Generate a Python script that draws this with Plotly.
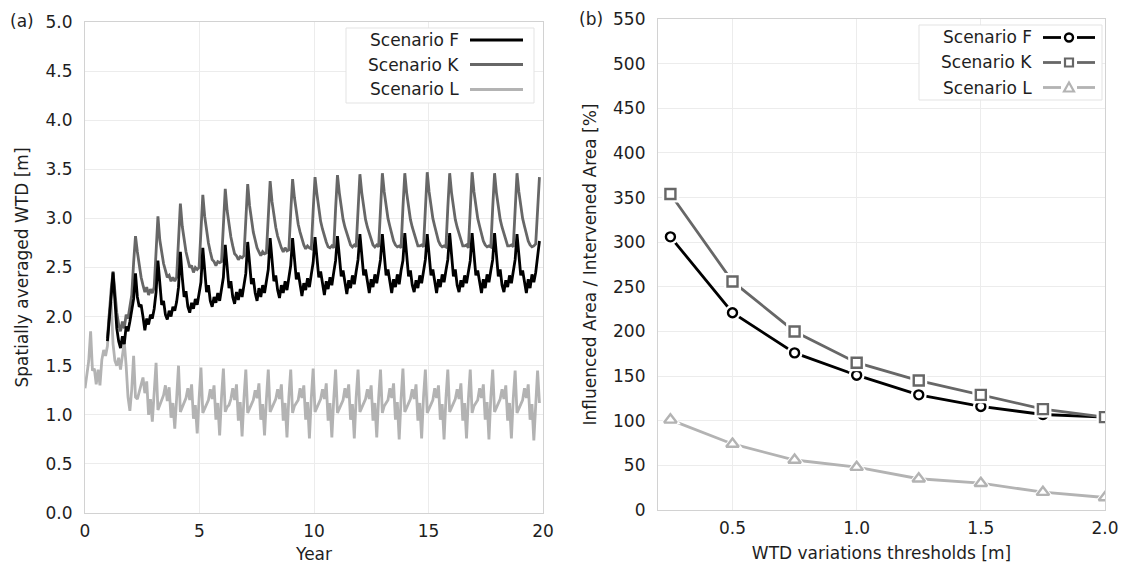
import plotly.graph_objects as go

W, H = 1121, 564
def px(x): return x / W
def py(y): return 1 - y / H

# ---------------- Panel (a) data: spatially averaged WTD [m] ----------------
sample_step_years = 0.98 / 12  # sampling interval of the simulated series

wtd_L_cycles = [
    [1.27, 1.42, 1.55, 1.85, 1.45, 1.47, 1.31, 1.46, 1.30, 1.56, 1.66, 1.60],
    [1.70, 2.02, 2.15, 1.72, 1.55, 1.50, 1.58, 1.46, 1.62, 1.74, 1.50, 1.18],
    [1.04, 1.26, 1.60, 1.18, 1.16, 1.24, 1.30, 1.38, 1.22, 1.34, 1.00, 1.16],
    [0.93, 1.20, 1.53, 1.05, 1.10, 1.15, 1.20, 1.30, 1.14, 1.28, 0.97, 1.12],
    [0.86, 1.17, 1.50, 1.03, 1.08, 1.12, 1.17, 1.27, 1.15, 1.31, 0.96, 1.10],
    [0.81, 1.16, 1.48, 1.02, 1.06, 1.11, 1.15, 1.26, 1.16, 1.30, 0.95, 1.12],
    [0.79, 1.18, 1.47, 1.03, 1.08, 1.10, 1.16, 1.27, 1.15, 1.31, 0.94, 1.13],
    [0.78, 1.17, 1.46, 1.02, 1.07, 1.12, 1.15, 1.25, 1.17, 1.32, 0.95, 1.11],
    [0.79, 1.16, 1.46, 1.03, 1.08, 1.11, 1.16, 1.26, 1.16, 1.31, 0.94, 1.12],
    [0.77, 1.18, 1.46, 1.02, 1.09, 1.12, 1.15, 1.27, 1.17, 1.30, 0.95, 1.13],
    [0.76, 1.17, 1.47, 1.03, 1.08, 1.11, 1.16, 1.26, 1.16, 1.32, 0.94, 1.12],
    [0.77, 1.16, 1.46, 1.02, 1.07, 1.12, 1.15, 1.27, 1.17, 1.31, 0.95, 1.11],
    [0.76, 1.18, 1.46, 1.03, 1.08, 1.11, 1.16, 1.26, 1.16, 1.30, 0.94, 1.12],
    [0.77, 1.17, 1.46, 1.02, 1.09, 1.12, 1.15, 1.27, 1.17, 1.32, 0.95, 1.13],
    [0.75, 1.16, 1.47, 1.03, 1.08, 1.11, 1.16, 1.26, 1.16, 1.31, 0.94, 1.12],
    [0.76, 1.18, 1.46, 1.02, 1.07, 1.12, 1.15, 1.27, 1.17, 1.30, 0.95, 1.11],
    [0.75, 1.17, 1.46, 1.03, 1.08, 1.11, 1.16, 1.26, 1.16, 1.32, 0.94, 1.12],
    [0.76, 1.16, 1.46, 1.02, 1.09, 1.12, 1.15, 1.27, 1.17, 1.31, 0.95, 1.13],
    [0.75, 1.18, 1.46, 1.03, 1.08, 1.11, 1.16, 1.26, 1.16, 1.30, 0.94, 1.12],
    [0.76, 1.17, 1.45, 1.02, 1.07, 1.12, 1.15, 1.27, 1.17, 1.31, 0.95, 1.11],
    [0.74, 1.10, 1.45, 1.12],
]

wtd_K_cycles = [
    [None] * 12,
    [1.78, 2.05, 2.28, 2.46, 2.22, 2.04, 1.92, 1.85, 1.95, 1.88, 2.02, 1.98],
    [2.10, 2.22, 2.55, 2.82, 2.66, 2.52, 2.40, 2.32, 2.25, 2.30, 2.22, 2.28],
    [2.24, 2.30, 2.68, 3.02, 2.78, 2.63, 2.54, 2.47, 2.40, 2.42, 2.36, 2.40],
    [2.36, 2.40, 2.80, 3.15, 2.92, 2.76, 2.66, 2.58, 2.50, 2.52, 2.45, 2.50],
    [2.48, 2.50, 2.90, 3.24, 3.02, 2.86, 2.75, 2.66, 2.58, 2.56, 2.52, 2.56],
    [2.55, 2.56, 2.96, 3.30, 3.08, 2.92, 2.81, 2.72, 2.64, 2.62, 2.58, 2.61],
    [2.60, 2.62, 3.00, 3.35, 3.13, 2.97, 2.86, 2.78, 2.70, 2.66, 2.62, 2.66],
    [2.64, 2.65, 3.04, 3.38, 3.17, 3.01, 2.91, 2.82, 2.75, 2.70, 2.66, 2.70],
    [2.67, 2.68, 3.06, 3.40, 3.21, 3.05, 2.94, 2.86, 2.78, 2.73, 2.69, 2.72],
    [2.70, 2.69, 3.08, 3.42, 3.25, 3.08, 2.97, 2.89, 2.82, 2.76, 2.71, 2.70],
    [2.72, 2.70, 3.10, 3.44, 3.26, 3.10, 2.99, 2.91, 2.85, 2.77, 2.73, 2.71],
    [2.73, 2.71, 3.11, 3.45, 3.26, 3.10, 2.99, 2.91, 2.85, 2.77, 2.73, 2.71],
    [2.73, 2.71, 3.12, 3.46, 3.27, 3.11, 3.00, 2.92, 2.85, 2.77, 2.73, 2.71],
    [2.72, 2.70, 3.11, 3.46, 3.26, 3.10, 2.99, 2.91, 2.84, 2.78, 2.72, 2.72],
    [2.73, 2.71, 3.12, 3.47, 3.27, 3.11, 3.00, 2.92, 2.85, 2.77, 2.73, 2.71],
    [2.72, 2.71, 3.11, 3.46, 3.26, 3.10, 2.99, 2.91, 2.84, 2.78, 2.72, 2.72],
    [2.73, 2.70, 3.12, 3.47, 3.27, 3.11, 3.00, 2.92, 2.85, 2.77, 2.73, 2.71],
    [2.72, 2.71, 3.11, 3.46, 3.26, 3.10, 2.99, 2.91, 2.84, 2.78, 2.72, 2.72],
    [2.73, 2.71, 3.12, 3.46, 3.27, 3.11, 3.00, 2.92, 2.85, 2.77, 2.73, 2.71],
    [2.72, 2.74, 3.08, 3.42],
]

wtd_F_cycles = [
    [None] * 12,
    [1.75, 1.95, 2.20, 2.45, 2.10, 1.88, 1.75, 1.68, 1.80, 1.72, 1.90, 1.85],
    [1.95, 2.05, 2.18, 2.44, 2.20, 2.10, 2.12, 2.00, 1.86, 1.98, 1.92, 2.02],
    [1.98, 2.08, 2.25, 2.57, 2.33, 2.12, 2.16, 2.02, 1.97, 2.06, 2.00, 2.10],
    [2.06, 2.15, 2.30, 2.66, 2.40, 2.20, 2.26, 2.10, 2.04, 2.14, 2.08, 2.18],
    [2.12, 2.22, 2.35, 2.70, 2.44, 2.25, 2.32, 2.16, 2.10, 2.20, 2.14, 2.24],
    [2.16, 2.27, 2.40, 2.73, 2.47, 2.29, 2.36, 2.20, 2.13, 2.25, 2.17, 2.28],
    [2.20, 2.32, 2.44, 2.76, 2.50, 2.33, 2.39, 2.24, 2.16, 2.29, 2.20, 2.32],
    [2.24, 2.36, 2.48, 2.80, 2.54, 2.36, 2.42, 2.27, 2.19, 2.32, 2.24, 2.36],
    [2.27, 2.40, 2.52, 2.80, 2.56, 2.38, 2.45, 2.30, 2.21, 2.34, 2.27, 2.39],
    [2.30, 2.43, 2.55, 2.81, 2.57, 2.40, 2.46, 2.31, 2.22, 2.36, 2.28, 2.40],
    [2.32, 2.45, 2.57, 2.82, 2.58, 2.41, 2.47, 2.32, 2.23, 2.37, 2.29, 2.42],
    [2.33, 2.46, 2.58, 2.84, 2.59, 2.42, 2.48, 2.33, 2.24, 2.38, 2.30, 2.43],
    [2.34, 2.46, 2.58, 2.84, 2.59, 2.42, 2.48, 2.33, 2.24, 2.38, 2.30, 2.43],
    [2.33, 2.47, 2.57, 2.85, 2.58, 2.41, 2.47, 2.32, 2.25, 2.37, 2.29, 2.42],
    [2.34, 2.46, 2.58, 2.84, 2.59, 2.42, 2.48, 2.33, 2.24, 2.38, 2.30, 2.43],
    [2.35, 2.47, 2.58, 2.85, 2.58, 2.41, 2.48, 2.32, 2.25, 2.37, 2.30, 2.42],
    [2.34, 2.46, 2.57, 2.85, 2.59, 2.42, 2.47, 2.33, 2.24, 2.38, 2.29, 2.43],
    [2.35, 2.47, 2.58, 2.85, 2.58, 2.41, 2.48, 2.32, 2.25, 2.37, 2.30, 2.42],
    [2.34, 2.46, 2.58, 2.84, 2.59, 2.42, 2.47, 2.33, 2.24, 2.38, 2.29, 2.43],
    [2.35, 2.45, 2.60, 2.77],
]

def flatten(cycles):
    return [v for c in cycles for v in c]

wtd_L = flatten(wtd_L_cycles)
wtd_K = flatten(wtd_K_cycles)
wtd_F = flatten(wtd_F_cycles)
years = [i * sample_step_years for i in range(len(wtd_L))]

# ---------------- Panel (b) data ----------------
thresholds = [0.25, 0.5, 0.75, 1.0, 1.25, 1.5, 1.75, 2.0]
ratio_F = [306, 221, 176, 151, 129, 116, 107, 104]
ratio_K = [354, 256, 200, 165, 145, 129, 113, 104]
ratio_L = [101, 74, 56, 48, 35, 30, 20, 14]

colors = {"F": "#000000", "K": "#676767", "L": "#b3b3b3"}

FONT = "DejaVu Sans"
TXT = "#1e1e1e"
FS = 17

fig = go.Figure()

# panel (a) lines
for key, vals in [("L", wtd_L), ("K", wtd_K), ("F", wtd_F)]:
    fig.add_trace(go.Scatter(x=years, y=vals, mode="lines",
                             line=dict(color=colors[key], width=2.8),
                             xaxis="x", yaxis="y", showlegend=False,
                             connectgaps=False, name="Scenario " + key))

# panel (b) lines + halos + markers
symbols = {"F": "circle", "K": "square", "L": "triangle-up"}
msize = {"F": 9, "K": 10, "L": 11}
for key, vals in [("F", ratio_F), ("K", ratio_K), ("L", ratio_L)]:
    fig.add_trace(go.Scatter(x=thresholds, y=vals, mode="lines",
                             line=dict(color=colors[key], width=2.8),
                             xaxis="x2", yaxis="y2", showlegend=False))
    fig.add_trace(go.Scatter(x=thresholds, y=vals, mode="markers",
                             marker=dict(symbol=symbols[key], size=msize[key] + 7,
                                         color="white", line=dict(width=0)),
                             xaxis="x2", yaxis="y2", showlegend=False, hoverinfo="skip"))
    fig.add_trace(go.Scatter(x=thresholds, y=vals, mode="markers",
                             marker=dict(symbol=symbols[key], size=msize[key],
                                         color="white",
                                         line=dict(width=2.4, color=colors[key])),
                             xaxis="x2", yaxis="y2", showlegend=False,
                             name="Scenario " + key))

axis_common = dict(showgrid=True, gridcolor="#ececec", gridwidth=1,
                   showline=True, linecolor="#d2d2d2", linewidth=1.2, mirror=True,
                   zeroline=False, ticks="outside", automargin=False,
                   tickcolor="rgba(0,0,0,0)",
                   tickfont=dict(family=FONT, size=FS, color=TXT))

fig.update_layout(
    width=W, height=H, margin=dict(l=0, r=0, t=0, b=0, autoexpand=False),
    paper_bgcolor="white", plot_bgcolor="white",
    font=dict(family=FONT, size=FS, color=TXT),
    showlegend=False,
    xaxis=dict(domain=[px(85), px(543)], range=[0, 20], tickvals=[0, 5, 10, 15, 20],
               anchor="y", ticklen=2,
               title=dict(text="Year", standoff=9, font=dict(family=FONT, size=FS, color=TXT)),
               **axis_common),
    yaxis=dict(domain=[py(513), py(22)], range=[0, 5], dtick=0.5, tickformat=".1f",
               anchor="x", ticklen=8,
               title=dict(text="Spatially averaged WTD [m]", standoff=12,
                          font=dict(family=FONT, size=FS, color=TXT)),
               **axis_common),
    xaxis2=dict(domain=[px(658), px(1105)], range=[0.2, 2.0],
                tickvals=[0.5, 1.0, 1.5, 2.0], ticktext=["0.5", "1.0", "1.5", "2.0"],
                anchor="y2", ticklen=2,
                title=dict(text="WTD variations thresholds [m]", standoff=10,
                           font=dict(family=FONT, size=FS, color=TXT)),
                **axis_common),
    yaxis2=dict(domain=[py(510), py(19)], range=[0, 550], dtick=50,
                anchor="x2", ticklen=8,
                title=dict(text="Influenced Area / Intervened Area [%]", standoff=12,
                           font=dict(family=FONT, size=FS, color=TXT)),
                **axis_common),
)

def label(text, x, y, xanchor="center"):
    return dict(text=text, x=px(x), y=py(y), xref="paper", yref="paper",
                xanchor=xanchor, yanchor="middle", showarrow=False,
                font=dict(family=FONT, size=FS, color=TXT))

annotations = [label("(a)", 22, 21), label("(b)", 591, 19)]
shapes = []

# legend panel (a)
shapes.append(dict(type="rect", xref="paper", yref="paper",
                   x0=px(346), x1=px(534), y0=py(103), y1=py(28),
                   line=dict(color="#e3e3e3", width=1), fillcolor="white", layer="above"))
for i, key in enumerate(["F", "K", "L"]):
    yy = [40, 64.5, 89.5][i]
    annotations.append(label("Scenario " + key, 461, yy, "right"))
    shapes.append(dict(type="line", xref="paper", yref="paper",
                       x0=px(470), x1=px(523), y0=py(yy), y1=py(yy),
                       line=dict(color=colors[key], width=2.8), layer="above"))

# legend panel (b)
shapes.append(dict(type="rect", xref="paper", yref="paper",
                   x0=px(919), x1=px(1102), y0=py(100), y1=py(25),
                   line=dict(color="#e3e3e3", width=1), fillcolor="white", layer="above"))
marker_paths = {
    "K": "M -4,-4 L 4,-4 L 4,4 L -4,4 Z",
    "L": "M -5,-4 L 5,-4 L 0,5 Z",
}
for i, key in enumerate(["F", "K", "L"]):
    yy = [37.5, 62.5, 87.5][i]
    annotations.append(label("Scenario " + key, 1034, yy, "right"))
    shapes.append(dict(type="line", xref="paper", yref="paper",
                       x0=px(1043), x1=px(1061), y0=py(yy), y1=py(yy),
                       line=dict(color=colors[key], width=2.8), layer="above"))
    shapes.append(dict(type="line", xref="paper", yref="paper",
                       x0=px(1077), x1=px(1095), y0=py(yy), y1=py(yy),
                       line=dict(color=colors[key], width=2.8), layer="above"))
    if key == "F":
        shapes.append(dict(type="circle", xref="paper", yref="paper",
                           xsizemode="pixel", ysizemode="pixel",
                           xanchor=px(1069), yanchor=py(yy),
                           x0=-4, x1=4, y0=-4, y1=4,
                           line=dict(color=colors[key], width=2.4),
                           fillcolor="white", layer="above"))
    else:
        shapes.append(dict(type="path", xref="paper", yref="paper",
                           xsizemode="pixel", ysizemode="pixel",
                           xanchor=px(1069), yanchor=py(yy),
                           path=marker_paths[key],
                           line=dict(color=colors[key], width=2.2),
                           fillcolor="white", layer="above"))

fig.update_layout(annotations=annotations, shapes=shapes)
fig.write_html("out.html")
